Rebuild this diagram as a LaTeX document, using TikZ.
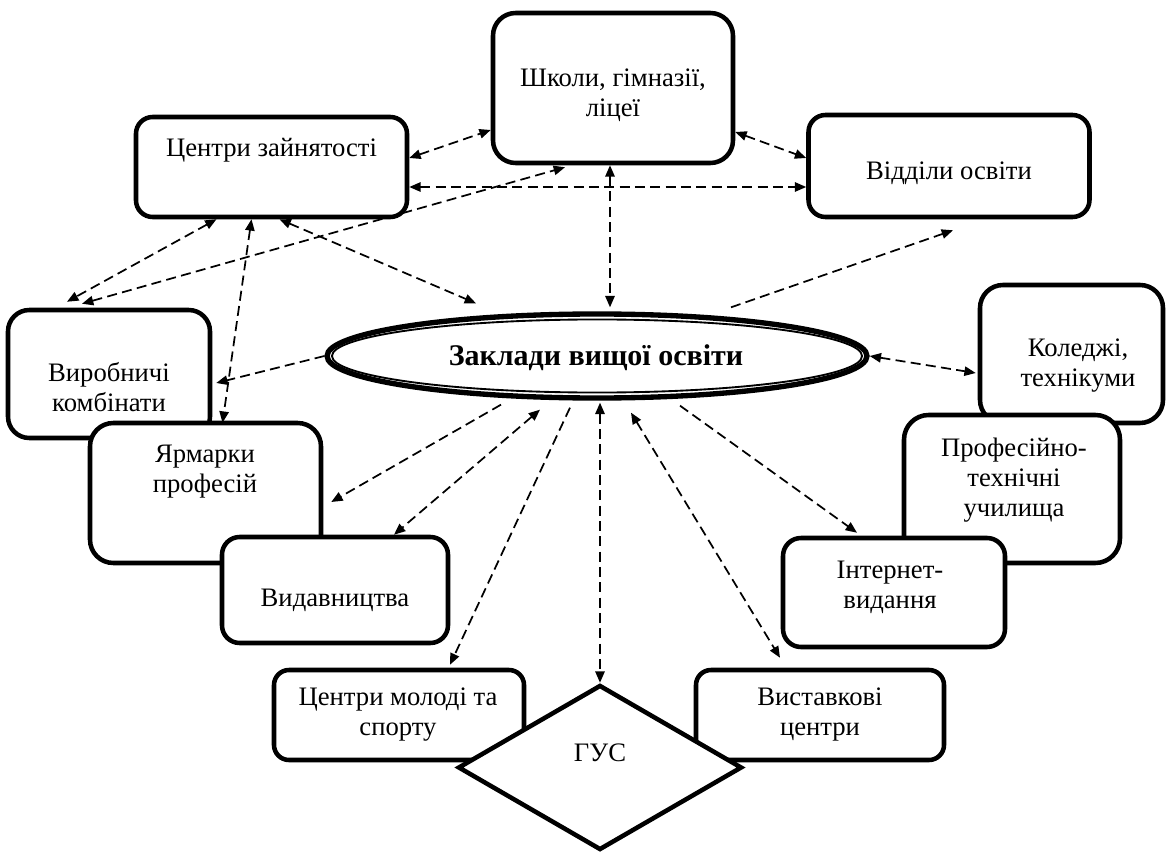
\documentclass[tikz,border=0pt]{standalone}
\usepackage{fontspec}
\setmainfont{Liberation Serif}
\usetikzlibrary{shapes.geometric, arrows.meta, calc}

\begin{document}
\begin{tikzpicture}[
    x=0.75pt, y=-0.75pt,
    box/.style={rectangle, rounded corners=#1, draw, line width=3.4pt, fill=white, inner sep=0pt},
    box/.default=12pt,
    txt/.style={font=\fontsize{20}{22.5}\selectfont, align=center, inner sep=0pt},
    link/.style={line width=1.3pt, dash pattern=on 7.5pt off 4pt},
    twoway/.style={link, {Triangle[length=8.5pt,width=7pt]}-{Triangle[length=8.5pt,width=7pt]}},
    oneway/.style={link, -{Triangle[length=8.5pt,width=7pt]}}
]
\useasboundingbox (0,0) rectangle (1171,852);

% Top row
\node[box=17pt, minimum width=180pt, minimum height=112.5pt] (shkoly) at (613,88) {};
\node[box=12.5pt, minimum width=203.25pt, minimum height=75pt] (centri) at (271.5,167) {};
\node[box=12.75pt, minimum width=210.75pt, minimum height=76.5pt] (viddily) at (949,166) {};

% Left side
\node[box=16pt, minimum width=151.5pt, minimum height=96pt] (vyrob) at (109,374) {};
\node[box=17.5pt, minimum width=173.25pt, minimum height=105pt] (yarm) at (205.5,493) {};
\node[box=13.25pt, minimum width=169.5pt, minimum height=79.5pt] (vydav) at (335,590) {};

% Right side
\node[box=17.25pt, minimum width=137.25pt, minimum height=103.5pt] (koledzhi) at (1071.5,354) {};
\node[box=18.5pt, minimum width=162pt, minimum height=111pt] (proftech) at (1012,489) {};
\node[box=13.5pt, minimum width=166.5pt, minimum height=81.75pt] (internet) at (894,592.5) {};

% Bottom row
\node[box=11.25pt, minimum width=187.5pt, minimum height=67.5pt] (molod) at (399,715) {};
\node[box=11.25pt, minimum width=186pt, minimum height=67.5pt] (vyst) at (820,715) {};
\node[diamond, draw, line width=3.4pt, fill=white, inner sep=0pt, minimum width=213pt, minimum height=123.75pt] (gus) at (600,767.5) {};

% Centre
\node[ellipse, draw, line width=4pt, fill=white, inner sep=0pt, minimum width=405pt, minimum height=63pt] (zvo) at (597,356) {};
\draw[line width=1.4pt] (zvo.center) ellipse [x radius=198.8pt, y radius=27.4pt];

% Labels
\node[txt] (shkoly-t) at (613,95) {Школи, гімназії,\\ліцеї};
\node[txt] (centri-t) at (271.5,150) {Центри зайнятості};
\node[txt] (viddily-t) at (949,173) {Відділи освіти};
\node[txt] (vyrob-t) at (109,387) {Виробничі\\комбінати};
\node[txt] (yarm-t) at (205,472) {Ярмарки\\професій};
\node[txt] (vydav-t) at (335,600) {Видавництва};
\node[txt] (koledzhi-t) at (1078,366) {Коледжі,\\технікуми};
\node[txt] (proftech-t) at (1014,480) {Професійно-\\технічні\\училища};
\node[txt] (internet-t) at (890,587) {Інтернет-\\видання};
\node[txt] (molod-t) at (398,715) {Центри молоді та\\спорту};
\node[txt] (vyst-t) at (820,715) {Виставкові\\центри};
\node[txt] (gus-t) at (600,753) {ГУС};
\node[txt, font=\fontsize{22.5}{25}\selectfont\bfseries] (zvo-t) at (596,358) {Заклади вищої освіти};

% Links around the top
\draw[twoway] ($(centri.east)+(0,-9)$) -- ($(shkoly.west)+(0,42)$);
\draw[twoway] ($(centri.east)+(0,20)$) -- ($(viddily.west)+(0,21)$);
\draw[twoway] ($(shkoly.east)+(0,44)$) -- ($(viddily.west)+(0,-8)$);
\draw[twoway] ($(shkoly.south)+(-3,0)$) -- ($(zvo.north)+(13,-4)$);
\draw[twoway] ($(vyrob.north)+(-27,-4)$) -- ($(shkoly.south)+(-48,2)$);
\draw[twoway] ($(centri.south)+(-55,0)$) -- ($(vyrob.north)+(-42,-6)$);
\draw[twoway] ($(centri.south)+(-20,0)$) -- ($(yarm.north)+(17,2)$);
\draw[twoway] ($(centri.south)+(8,0)$) -- ($(zvo.north)+(-121,-8)$);
\draw[oneway] ($(zvo.north)+(134,-4)$) -- ($(viddily.south)+(4,11)$);

% Links from the centre
\draw[oneway] (zvo.west) -- ($(vyrob.east)+(4,9)$);
\draw[oneway] ($(zvo.south)+(-96,4)$) -- ($(yarm.east)+(8,9)$);
\draw[twoway] ($(zvo.south)+(-57,9)$) -- ($(vydav.north)+(59,0)$);
\draw[oneway] ($(zvo.south)+(-27,7)$) -- ($(molod.north)+(51,-3)$);
\draw[twoway] ($(zvo.south)+(3,2)$) -- (gus.north);
\draw[twoway] ($(zvo.south)+(34,12)$) -- ($(vyst.north)+(-40,-10)$);
\draw[oneway] ($(zvo.south)+(83,5)$) -- ($(internet.north)+(-37,-3)$);
\draw[twoway] (zvo.east) -- ($(koledzhi.west)+(-2,19)$);

\end{tikzpicture}
\end{document}
